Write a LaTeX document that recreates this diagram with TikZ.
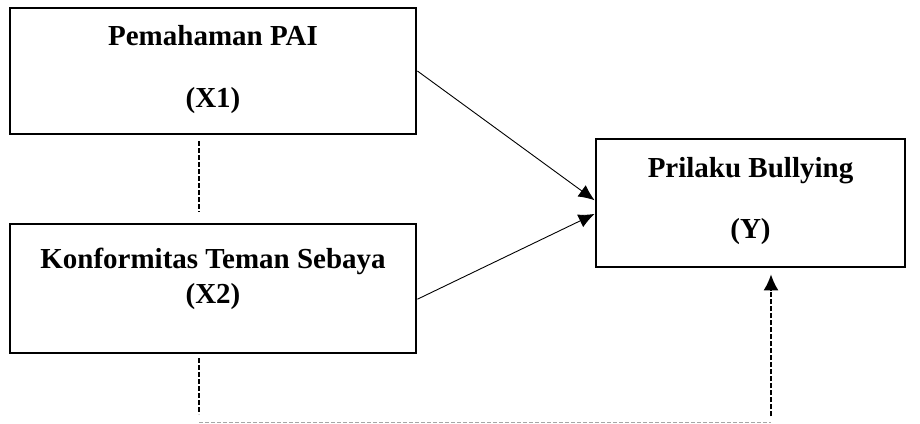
\documentclass[tikz,border=0pt]{standalone}
\usepackage{fontspec}
\setmainfont{Liberation Serif}
\usetikzlibrary{positioning,arrows.meta,calc}

\begin{document}
\begin{tikzpicture}[x=1pt,y=-1pt,
	box/.style={draw,line width=2.8pt,inner sep=0pt},
	lbl/.style={font=\fontsize{29}{35}\selectfont\bfseries,inner sep=0pt,anchor=base},
	arr/.style={line width=0.9pt,-{Latex[length=16pt,width=14pt]}},
	dashline/.style={line width=1.6pt,dash pattern=on 5pt off 2pt},
	greyline/.style={line width=1pt,gray!70,dash pattern=on 4pt off 2pt}]
	%% frame of the picture
	\useasboundingbox (0,0) rectangle (920,423);

	% the three variables
	\node[box,minimum width=406pt,minimum height=126pt] (x1) at (213,71) {};
	\node[box,minimum width=406pt,minimum height=129pt] (x2) at (213,288.5) {};
	\node[box,minimum width=309pt,minimum height=128pt] (y) at (750.5,203) {};

	\node[lbl] (x1name) at (213,45) {Pemahaman PAI};
	\node[lbl] (x1code) at (213,107) {(X1)};
	\node[lbl] (x2name) at (213,268) {Konformitas Teman Sebaya};
	\node[lbl] (x2code) at (213,303) {(X2)};
	\node[lbl] (yname) at (750.5,177) {Prilaku Bullying};
	\node[lbl] (ycode) at (750.5,238) {(Y)};

	% direct effects
	\draw[arr] (x1.east) -- (y.179);
	\draw[arr] (x2.-3) -- (y.184);

	% dashed links
	\coordinate (a) at ($(x1.south)+(-14,6)$);
	\coordinate (b) at ($(x2.north)+(-14,-11)$);
	\draw[dashline] (a) -- (b);

	\coordinate (c) at ($(x2.south)+(-14,4)$);
	\coordinate (d) at ($(x2.south)+(-14,60)$);
	\coordinate (e) at ($(x2.south)+(-14,68)$);
	\coordinate (f) at ($(y.south)+(20.5,154)$);
	\coordinate (g) at ($(y.south)+(20.5,148)$);
	\coordinate (h) at ($(y.south)+(20.5,6)$);
	\draw[dashline] (c) -- (d);
	\draw[greyline] (e) -- (f);
	\draw[dashline,-{Latex[length=16pt,width=15pt]}] (g) -- (h);
\end{tikzpicture}
\end{document}
